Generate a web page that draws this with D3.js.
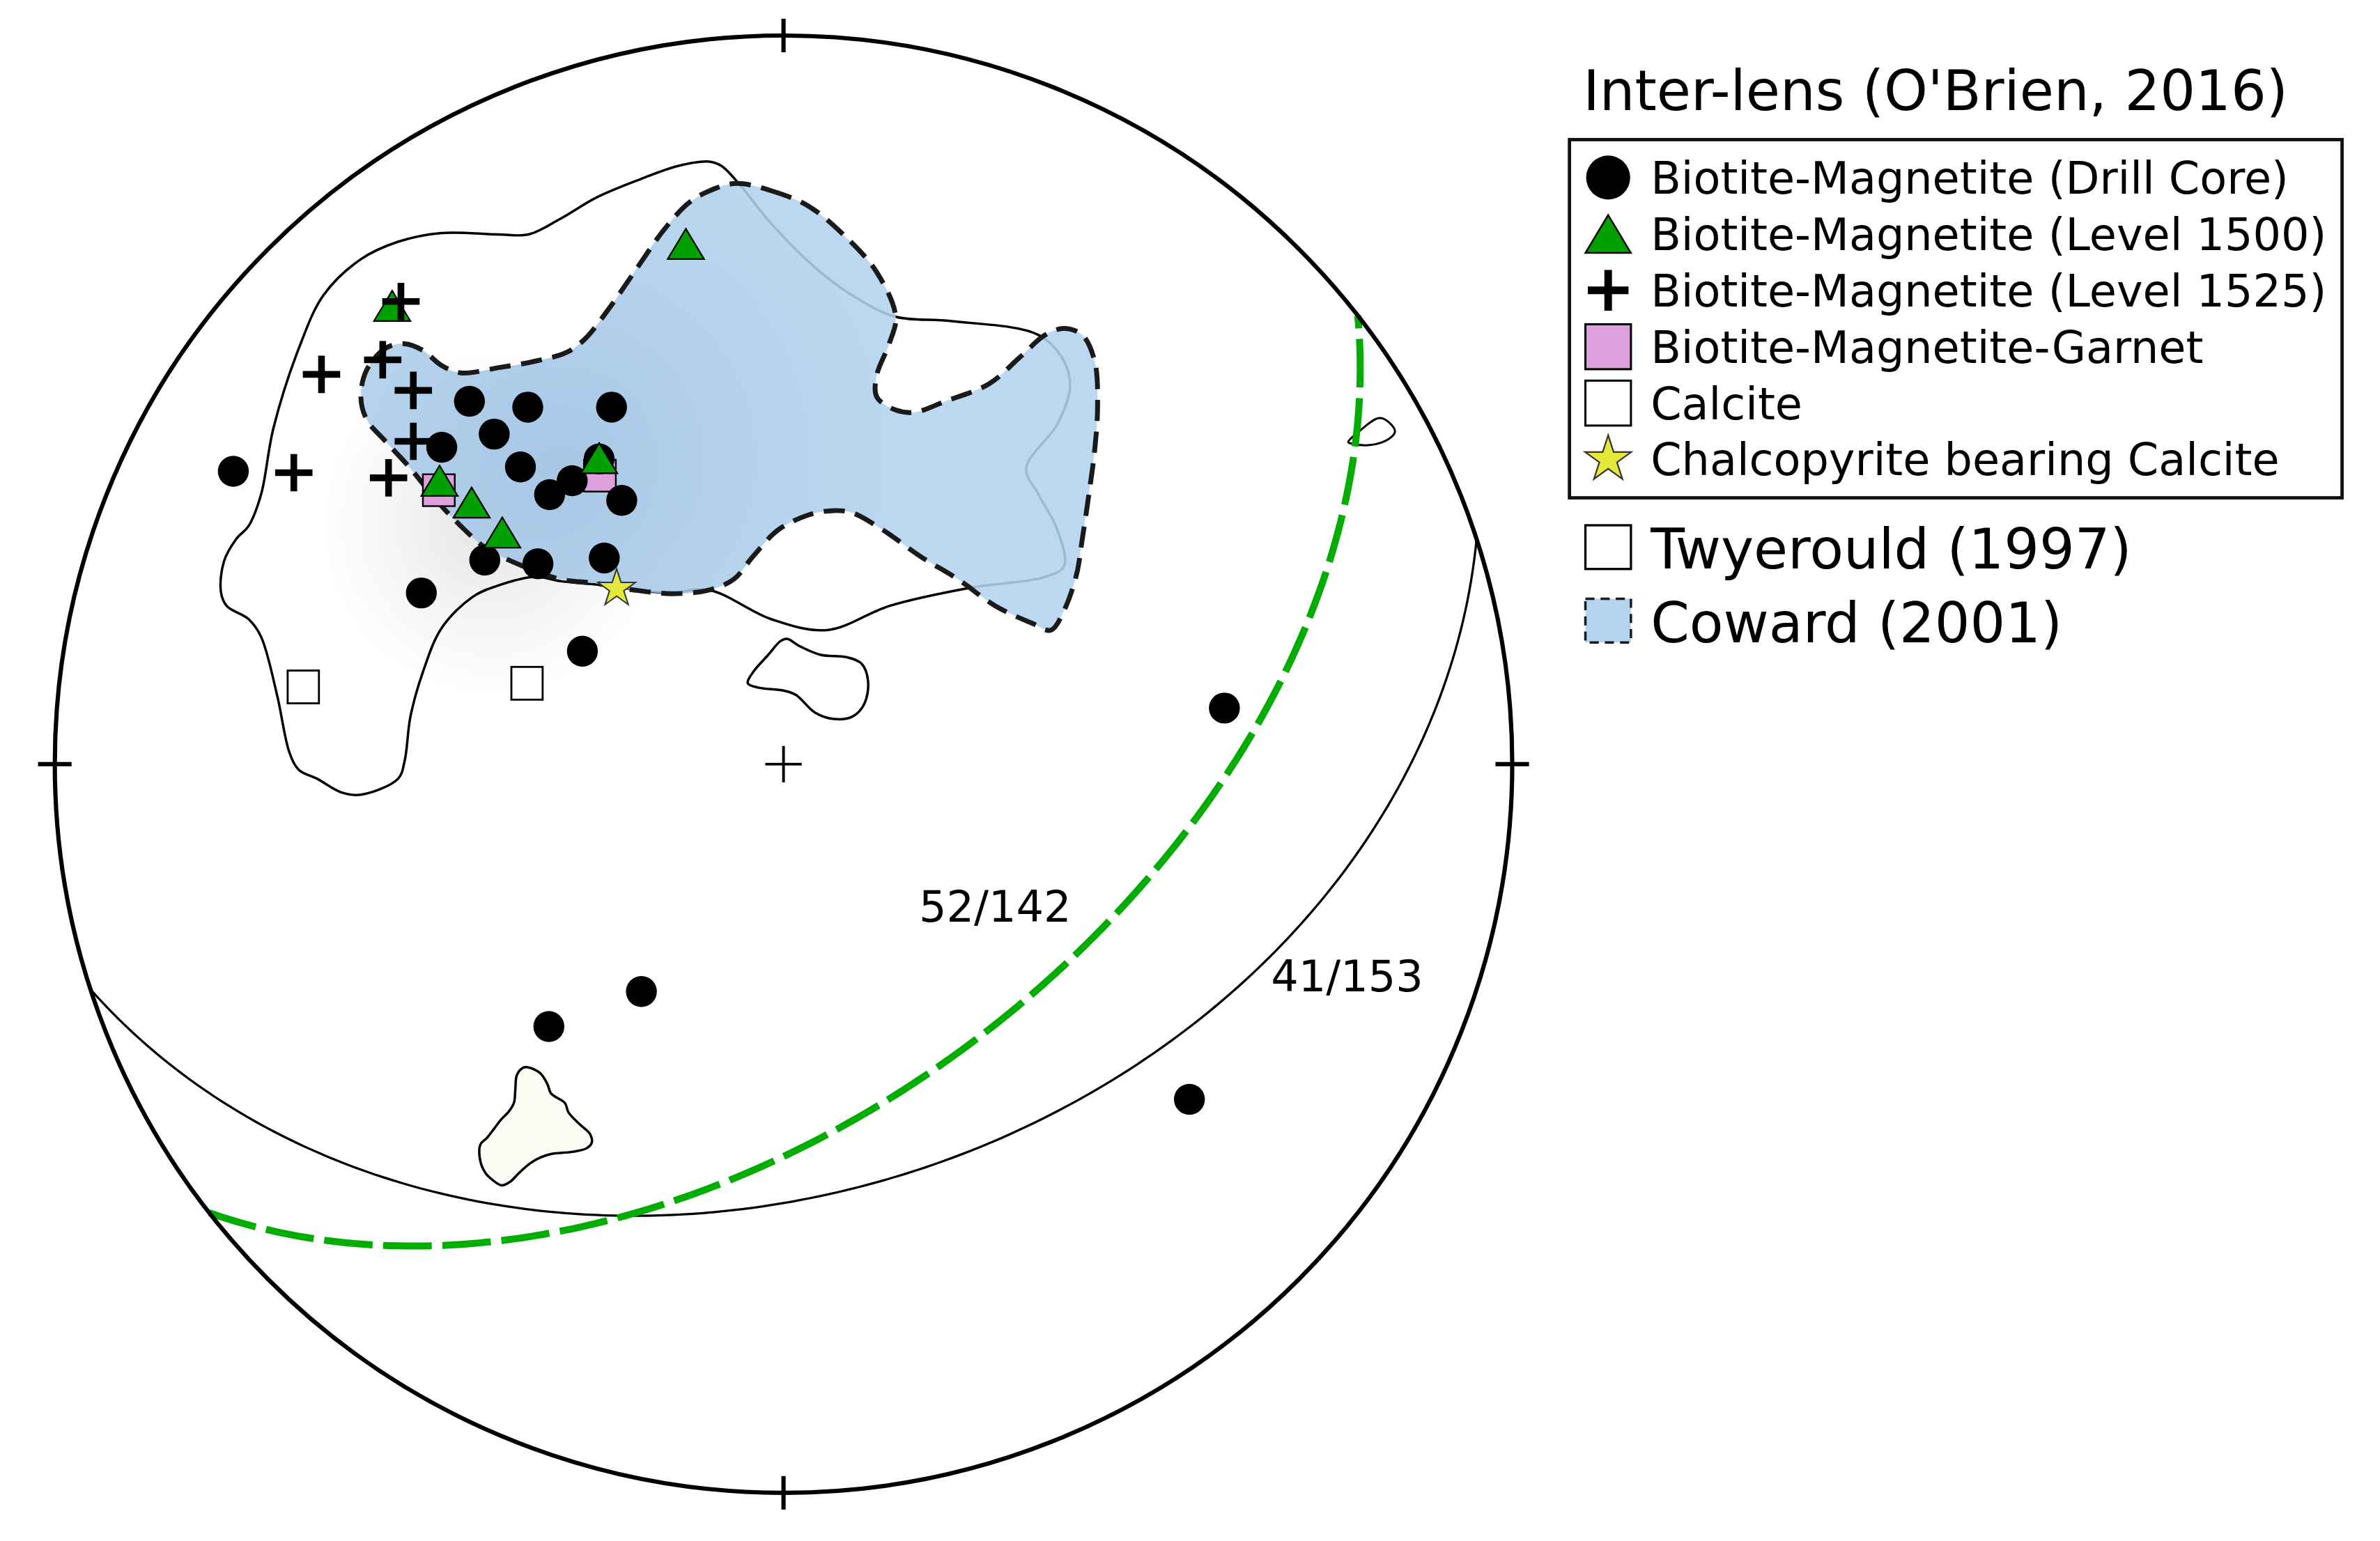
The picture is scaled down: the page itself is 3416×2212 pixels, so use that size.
<!DOCTYPE html>
<html>
<head>
<meta charset="utf-8">
<script src="https://cdn.jsdelivr.net/npm/d3@7"></script>
<style>
html,body{margin:0;padding:0;background:#fff;}
svg{display:block;}
</style>
</head>
<body>
<svg id="chart" width="3416" height="2212"></svg>
<script>
// ---------------- DATA (equal-area net coordinates, % of net radius: [east, north]) ----------------
const drillCore = [[-43.1,49.8],[-35.1,49.0],[-23.6,49.0],[-39.7,45.3],[-46.9,43.5],[-36.1,40.8],
  [-32.1,37.0],[-29.0,38.9],[-25.3,41.9],[-22.2,36.2],[-41.0,28.0],[-33.7,27.5],[-24.6,28.3],
  [-49.7,23.5],[-27.6,15.5],[-75.5,40.2],[60.5,7.7],[-19.5,-31.2],[-32.2,-36.0],[55.7,-46.0]];
const level1500 = [[-13.4,71.4],[-53.7,62.9],[-47.2,38.9],[-42.8,35.9],[-38.6,31.8],[-25.3,42.0]];
const level1525 = [[-52.5,63.5],[-63.4,53.5],[-55.0,55.5],[-50.8,51.3],[-50.8,44.3],[-67.2,40.0],[-54.2,39.3]];
const garnet = [[-47.3,37.6],[-25.2,39.6]];
const calcite = [[-65.9,10.6],[-35.2,11.1]];
const chalcopyrite = [[-22.9,24.1]];

const planeLabels = ["52/142","41/153"];
const planeDip = [52, 41];
const planeDipDir = [142, 162];

const twyerouldMain = [[-10.2,82.7],[-8.5,82.1],[-5.9,79.4],[-1.7,74.2],[5.1,67.5],[10.3,63.8],[15.4,61.4],
  [23.1,60.8],[35.0,58.9],[38.5,55.3],[39.3,51.6],[37.6,46.7],[33.3,40.6],[35.0,37.0],[37.6,32.1],[38.5,27.2],
  [35.9,25.7],[25.6,24.2],[14.5,21.7],[6.0,18.4],[-1.7,19.9],[-10.2,23.9],[-15.9,23.5],[-24.2,24.5],[-30.5,25.1],
  [-34.1,25.7],[-39.2,24.5],[-42.6,23.0],[-46.9,18.7],[-49.5,12.6],[-51.2,6.5],[-52.0,0.4],[-52.9,-2.0],
  [-58.0,-4.2],[-60.6,-3.9],[-64.0,-2.0],[-66.5,-0.8],[-67.8,1.6],[-69.5,9.5],[-71.7,17.5],[-73.4,19.9],
  [-76.4,21.7],[-77.2,23.6],[-76.8,27.8],[-75.1,30.9],[-73.4,32.7],[-71.7,37.0],[-70.0,46.1],[-66.5,57.1],
  [-63.1,64.4],[-58.0,69.3],[-52.9,71.7],[-46.9,72.9],[-39.2,72.7],[-35.0,72.7],[-30.7,74.8],[-25.6,77.8],
  [-19.6,80.3],[-14.5,82.1]];
const twyerouldSmall = [[0.5,17.2],[2.2,16.2],[5.1,15.0],[8.6,14.7],[10.7,13.8],[11.6,11.4],[11.1,8.3],[9.4,6.5],
  [6.9,6.2],[4.3,7.1],[1.7,9.5],[0.0,10.1],[-3.4,10.5],[-4.9,11.1],[-4.2,12.6],[-2.1,15.0],[-0.4,16.9]];
const twyerouldTiny = [[77.5,44.2],[78.9,45.6],[81.8,47.5],[83.4,46.6],[83.9,45.6],[83.0,44.6],[80.5,43.8],[78.0,44.0]];
const twyerouldSouth = [[-35.1,-41.6],[-33.4,-42.4],[-32.4,-43.9],[-31.9,-45.2],[-30.0,-46.5],[-29.5,-47.8],
  [-28.0,-49.4],[-26.6,-50.7],[-26.3,-51.9],[-27.0,-52.7],[-29.0,-53.2],[-31.9,-53.5],[-33.4,-54.0],[-34.8,-54.8],
  [-36.3,-56.1],[-37.5,-57.3],[-38.7,-57.8],[-40.0,-57.0],[-40.9,-56.1],[-41.6,-54.5],[-41.6,-52.2],[-40.7,-51.3],
  [-39.7,-50.0],[-38.7,-48.7],[-37.8,-47.8],[-37.0,-46.5],[-36.8,-44.6],[-36.6,-42.7],[-35.8,-41.7]];
const cowardZone = [[-6.4,79.7],[-1.7,78.7],[3.4,76.6],[8.6,72.3],[12.8,67.5],[15.4,61.4],[14.5,57.7],[12.8,53.4],
  [12.8,50.4],[15.4,48.6],[18.0,48.3],[22.2,49.8],[28.2,52.2],[32.5,55.9],[35.9,58.9],[38.5,59.8],[41.0,58.9],
  [42.7,55.3],[43.1,49.2],[42.7,43.1],[41.9,37.0],[41.0,30.9],[40.2,26.0],[38.5,21.1],[36.7,18.4],[34.2,19.3],
  [29.1,21.7],[23.9,25.4],[18.8,28.5],[13.7,32.1],[9.4,34.5],[6.9,34.8],[3.4,34.2],[-0.8,32.1],[-4.2,28.5],
  [-6.8,25.4],[-10.2,23.9],[-15.3,23.4],[-20.5,23.9],[-25.6,24.8],[-30.7,25.4],[-35.8,27.2],[-40.9,29.7],
  [-44.3,32.7],[-47.8,36.4],[-51.2,40.6],[-54.6,44.3],[-57.2,47.3],[-58.0,50.4],[-57.2,54.1],[-54.6,57.1],
  [-52.0,57.7],[-49.5,56.8],[-46.9,54.7],[-44.3,53.7],[-39.2,54.4],[-34.1,55.3],[-29.8,56.5],[-27.3,58.3],
  [-23.9,62.6],[-20.5,67.5],[-16.2,73.6],[-12.8,77.2],[-9.4,79.0]];

const title = "Inter-lens (O'Brien, 2016)";
const legendLabels = ["Biotite-Magnetite (Drill Core)","Biotite-Magnetite (Level 1500)",
  "Biotite-Magnetite (Level 1525)","Biotite-Magnetite-Garnet","Calcite","Chalcopyrite bearing Calcite"];
const sourceLabels = ["Twyerould (1997)","Coward (2001)"];

// ---------------- DRAWING ----------------
const VW = 1568, VH = 2212 * 1568 / 3416;
const svg = d3.select("#chart").attr("viewBox", `0 0 ${VW} ${VH}`);
const FONT = "'DejaVu Sans', 'Liberation Sans', sans-serif";
const cx = 516.2, cy = 503.5, R = 480.1;
const x = d3.scaleLinear().domain([-100, 100]).range([cx - R, cx + R]);
const y = d3.scaleLinear().domain([-100, 100]).range([cy + R, cy - R]);

const defs = svg.append("defs");
const halo = defs.append("radialGradient").attr("id", "halo").attr("gradientUnits", "userSpaceOnUse")
  .attr("cx", x(-40)).attr("cy", y(33)).attr("r", 115);
halo.append("stop").attr("offset", 0).attr("stop-color", "rgb(120,120,130)").attr("stop-opacity", 0.2);
halo.append("stop").attr("offset", 0.5).attr("stop-color", "rgb(120,120,130)").attr("stop-opacity", 0.09);
halo.append("stop").attr("offset", 1).attr("stop-color", "rgb(120,120,130)").attr("stop-opacity", 0);
const blueG = defs.append("radialGradient").attr("id", "blueG").attr("gradientUnits", "userSpaceOnUse")
  .attr("cx", x(-30)).attr("cy", y(42)).attr("r", 230);
blueG.append("stop").attr("offset", 0).attr("stop-color", "#9dc1e3");
blueG.append("stop").attr("offset", 0.6).attr("stop-color", "#accdeb");
blueG.append("stop").attr("offset", 1).attr("stop-color", "#b3d3ee");

const closed = d3.line().x(d => x(d[0])).y(d => y(d[1])).curve(d3.curveCatmullRomClosed.alpha(0.5));
const open = d3.line().x(d => x(d[0])).y(d => y(d[1]));

// density halo
svg.append("ellipse").attr("cx", x(-40)).attr("cy", y(33)).attr("rx", 115).attr("ry", 115)
  .attr("fill", "url(#halo)");

// Twyerould contours
svg.append("path").attr("d", closed(twyerouldMain)).attr("fill", "none").attr("stroke", "#000").attr("stroke-width", 1.6);
svg.append("path").attr("d", closed(twyerouldSmall)).attr("fill", "#fff").attr("stroke", "#000").attr("stroke-width", 1.6);
svg.append("path").attr("d", closed(twyerouldTiny)).attr("fill", "none").attr("stroke", "#000").attr("stroke-width", 1.4);
svg.append("path").attr("d", closed(twyerouldSouth)).attr("fill", "#fbfbf4").attr("stroke", "#000").attr("stroke-width", 1.6);

// Coward zone
svg.append("path").attr("d", closed(cowardZone)).attr("fill", "url(#blueG)").attr("fill-opacity", 0.88).attr("stroke", "none");
svg.append("path").attr("d", closed(cowardZone)).attr("fill", "none").attr("stroke", "#1a1a1a")
  .attr("stroke-width", 3.2).attr("stroke-dasharray", "14 7");

// great circles (lower hemisphere, equal area)
function greatCircle(dip, dipDir) {
  const r = Math.PI / 180, s = (dipDir - 90) * r, d = dip * r, a = dipDir * r;
  const pts = [];
  for (let t = 0; t <= 180; t += 1) {
    const tt = t * r;
    const e = Math.cos(tt) * Math.sin(s) + Math.sin(tt) * Math.cos(d) * Math.sin(a);
    const n = Math.cos(tt) * Math.cos(s) + Math.sin(tt) * Math.cos(d) * Math.cos(a);
    const dn = Math.sin(tt) * Math.sin(d);
    const p = Math.asin(Math.max(-1, Math.min(1, dn)));
    const tr = Math.atan2(e, n);
    const rr = Math.SQRT2 * Math.sin((Math.PI / 2 - p) / 2);
    pts.push([100 * rr * Math.sin(tr), 100 * rr * Math.cos(tr)]);
  }
  return pts.reverse();
}
svg.append("path").attr("d", open(greatCircle(planeDip[1], planeDipDir[1]))).attr("fill", "none")
  .attr("stroke", "#000").attr("stroke-width", 1.5);
svg.append("path").attr("d", open(greatCircle(planeDip[0], planeDipDir[0]))).attr("fill", "none")
  .attr("stroke", "#00ad00").attr("stroke-width", 4.6).attr("stroke-dasharray", "32 7");

// primitive, ticks, centre
svg.append("circle").attr("cx", x(0)).attr("cy", y(0)).attr("r", x(100) - x(0))
  .attr("fill", "none").attr("stroke", "#000").attr("stroke-width", 2.8);
const ticks = [[0, 1], [1, 0], [0, -1], [-1, 0]];
svg.selectAll("line.tick").data(ticks).join("line").attr("class", "tick")
  .attr("x1", d => x(d[0] * 97.7)).attr("y1", d => y(d[1] * 97.7))
  .attr("x2", d => x(d[0] * 102.3)).attr("y2", d => y(d[1] * 102.3))
  .attr("stroke", "#000").attr("stroke-width", 2.8);
svg.append("line").attr("x1", x(-2.5)).attr("x2", x(2.5)).attr("y1", y(0)).attr("y2", y(0)).attr("stroke", "#000").attr("stroke-width", 1.8);
svg.append("line").attr("x1", x(0)).attr("x2", x(0)).attr("y1", y(-2.5)).attr("y2", y(2.5)).attr("stroke", "#000").attr("stroke-width", 1.8);

// marker shapes
const triPath = (w, h) => `M0,${-h / 2}L${w / 2},${h / 2}L${-w / 2},${h / 2}Z`;
const plusPath = s => `M${-s},0H${s}M0,${-s}V${s}`;
function starPath(Ro) {
  const Ri = Ro * 0.382; let p = "";
  for (let i = 0; i < 10; i++) {
    const ang = (-90 + i * 36) * Math.PI / 180, rr = i % 2 ? Ri : Ro;
    p += (i ? "L" : "M") + (rr * Math.cos(ang)).toFixed(2) + "," + (rr * Math.sin(ang)).toFixed(2);
  }
  return p + "Z";
}
const tr = d => `translate(${x(d[0])},${y(d[1])})`;

svg.selectAll("rect.garnet").data(garnet).join("rect").attr("class", "garnet")
  .attr("x", d => x(d[0]) - 10.5).attr("y", d => y(d[1]) - 10.5).attr("width", 21).attr("height", 21)
  .attr("fill", "#dda0dd").attr("stroke", "#000").attr("stroke-width", 1.1);
svg.selectAll("circle.core").data(drillCore).join("circle").attr("class", "core")
  .attr("cx", d => x(d[0])).attr("cy", d => y(d[1])).attr("r", 10.2).attr("fill", "#000");
svg.selectAll("path.l1500").data(level1500).join("path").attr("class", "l1500")
  .attr("transform", tr).attr("d", triPath(24, 20)).attr("fill", "#00a000").attr("stroke", "#000").attr("stroke-width", 1);
svg.selectAll("path.l1525").data(level1525).join("path").attr("class", "l1525")
  .attr("transform", tr).attr("d", plusPath(12.3)).attr("fill", "none").attr("stroke", "#000").attr("stroke-width", 4.4);
svg.selectAll("rect.calcite").data(calcite).join("rect").attr("class", "calcite")
  .attr("x", d => x(d[0]) - 10.3).attr("y", d => y(d[1]) - 10.8).attr("width", 20.6).attr("height", 21.6)
  .attr("fill", "#fff").attr("stroke", "#000").attr("stroke-width", 1.3);
svg.selectAll("path.star").data(chalcopyrite).join("path").attr("class", "star")
  .attr("transform", tr).attr("d", starPath(13)).attr("fill", "#e4e83a").attr("stroke", "#333").attr("stroke-width", 0.9);

// plane labels
const labelPos = [[18.6, -21.6], [66.9, -31.2]];
svg.selectAll("text.plane").data(planeLabels).join("text").attr("class", "plane")
  .attr("x", (d, i) => x(labelPos[i][0])).attr("y", (d, i) => y(labelPos[i][1]))
  .attr("font-family", FONT).attr("font-size", 28.5).attr("fill", "#000").text(d => d);

// legend
svg.append("text").attr("x", 1043).attr("y", 72.7).attr("font-family", FONT).attr("font-size", 36.7)
  .attr("fill", "#000").text(title);
svg.append("rect").attr("x", 1034).attr("y", 92).attr("width", 509).attr("height", 236)
  .attr("fill", "#fff").attr("stroke", "#111").attr("stroke-width", 2.2);
const lg = svg.append("g");
const base0 = 127.5, step = 37.15, mx = 1059.5, tx = 1087.5;
legendLabels.forEach((lab, i) => {
  const by = base0 + i * step, my = by - 10.5;
  const g = lg.append("g").attr("transform", `translate(${mx},${my})`);
  if (i === 0) g.append("circle").attr("r", 14.5).attr("fill", "#000");
  if (i === 1) g.append("path").attr("d", triPath(30, 25)).attr("fill", "#00a000").attr("stroke", "#000").attr("stroke-width", 1.1);
  if (i === 2) g.append("path").attr("d", plusPath(13.4)).attr("stroke", "#000").attr("stroke-width", 5);
  if (i === 3) g.append("rect").attr("x", -15).attr("y", -14.8).attr("width", 30).attr("height", 29.6).attr("fill", "#dda0dd").attr("stroke", "#000").attr("stroke-width", 1.4);
  if (i === 4) g.append("rect").attr("x", -15).attr("y", -14.8).attr("width", 30).attr("height", 29.6).attr("fill", "#fff").attr("stroke", "#000").attr("stroke-width", 1.4);
  if (i === 5) g.append("path").attr("d", starPath(16)).attr("fill", "#e4e83a").attr("stroke", "#333").attr("stroke-width", 1);
  lg.append("text").attr("x", tx).attr("y", by).attr("font-family", FONT).attr("font-size", 29.2)
    .attr("fill", "#000").text(lab);
});
// source entries
const srcBase = [374.7, 423.1];
sourceLabels.forEach((lab, i) => {
  const by = srcBase[i], my = by - 14.2;
  if (i === 0) svg.append("rect").attr("x", mx - 15).attr("y", my - 14.4).attr("width", 30).attr("height", 28.8)
    .attr("fill", "#fff").attr("stroke", "#000").attr("stroke-width", 1.5);
  else svg.append("rect").attr("x", mx - 15).attr("y", my - 14.4).attr("width", 30).attr("height", 28.8)
    .attr("fill", "#b3d3ee").attr("stroke", "#1a1a1a").attr("stroke-width", 1.6).attr("stroke-dasharray", "6 4");
  svg.append("text").attr("x", tx).attr("y", by).attr("font-family", FONT).attr("font-size", 36.6)
    .attr("fill", "#000").text(lab);
});
</script>
</body>
</html>
